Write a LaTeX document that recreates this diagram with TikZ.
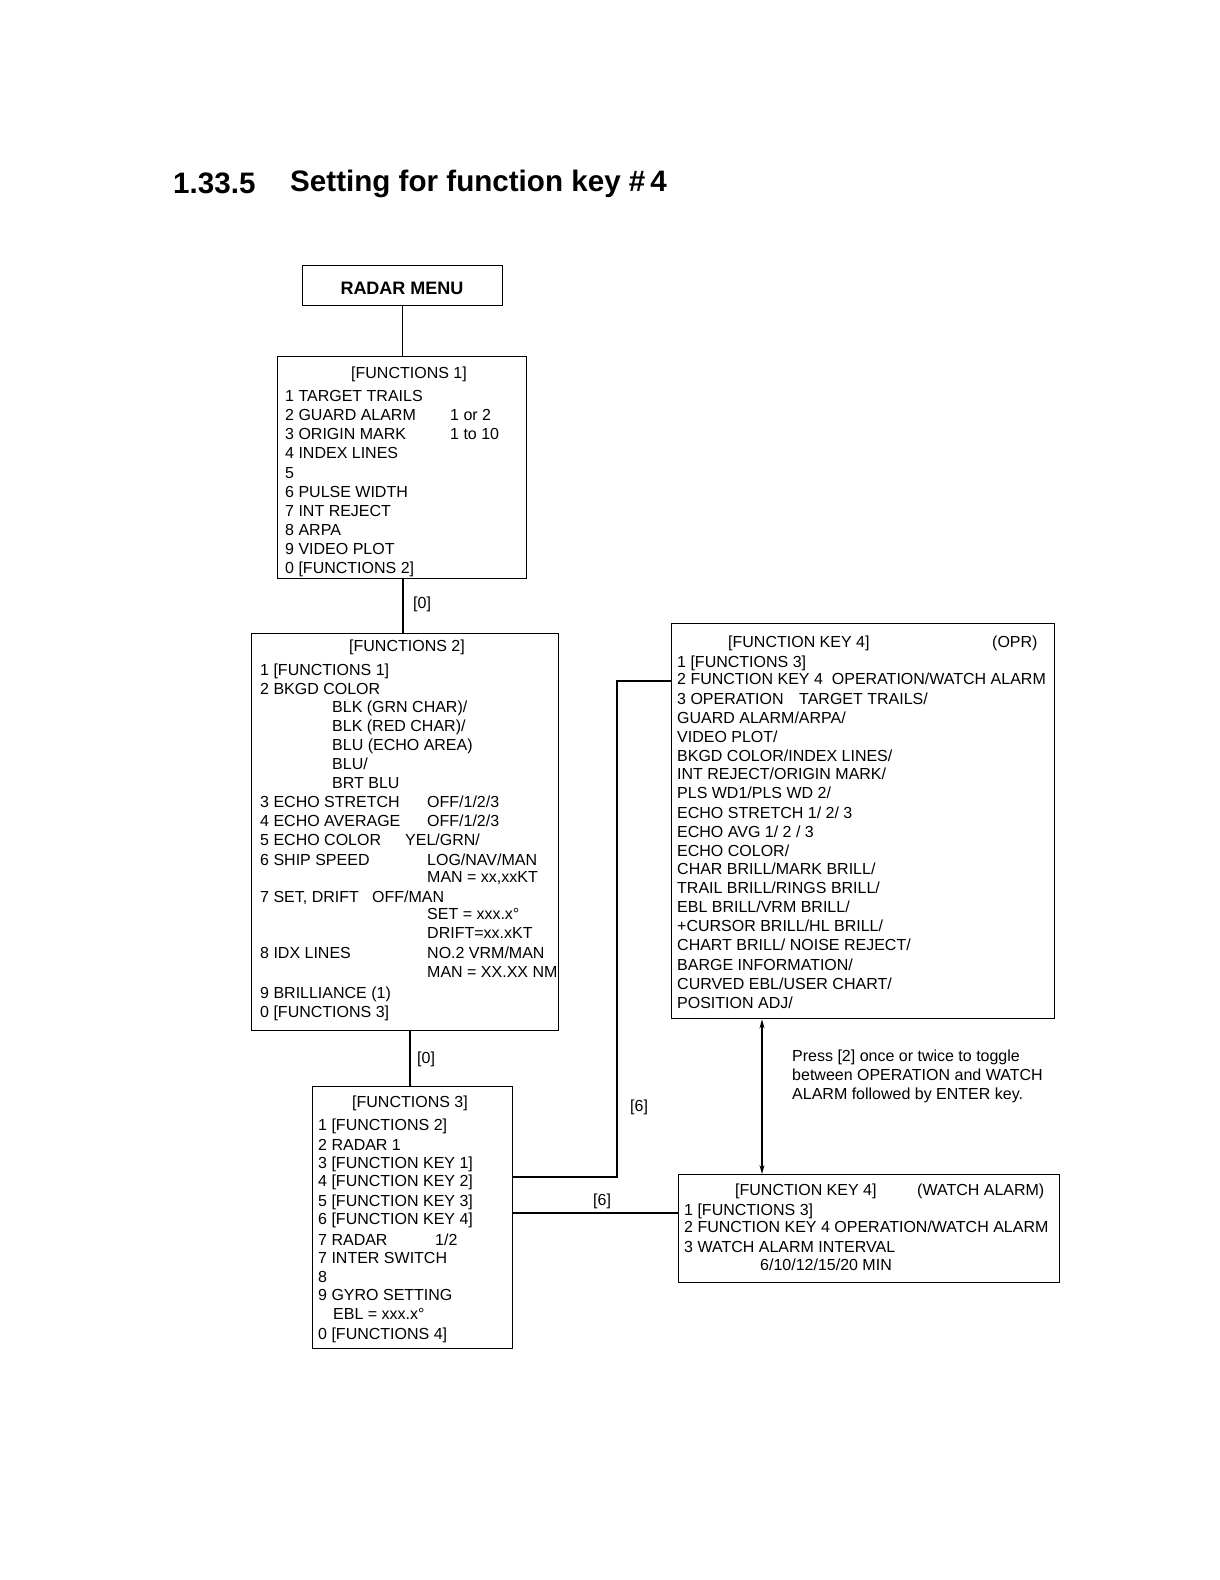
\documentclass[tikz,border=0pt]{standalone}
\usepackage{fontspec}
\setmainfont{Liberation Sans}
\usetikzlibrary{arrows.meta}
\newcommand\boxfont{\fontsize{16}{19}\selectfont}
\begin{document}
\begin{tikzpicture}[x=1pt,y=-1pt,
  box/.style={draw, line width=1.4pt, inner sep=0pt, anchor=north west},
  txt/.style={anchor=base west, inner sep=0pt, font=\boxfont},
  ctxt/.style={anchor=base, inner sep=0pt, font=\boxfont},
  conn/.style={line width=1.2pt},
  ttl/.style={anchor=base west, inner sep=0pt, font=\fontsize{29.6}{34}\selectfont\bfseries}]
\useasboundingbox[fill=white] (0,0) rectangle (1220,1580);

% title
\node[ttl] (tnum) at (173,193) {1.33.5};
\node[ttl] (ttext) at (290,191) {Setting for function key \#\,4};

% boxes
\node[box, minimum width=200pt, minimum height=40pt] (rm) at (302,265) {};
\node[anchor=center, inner sep=0pt, font=\fontsize{18}{20}\selectfont\bfseries] (rmt) at (402,288) {RADAR MENU};
\node[box, minimum width=249pt, minimum height=222pt] (f1) at (277,356) {};
\node[box, minimum width=307pt, minimum height=397pt] (f2) at (251,633) {};
\node[box, minimum width=200pt, minimum height=262pt] (f3) at (312,1086) {};
\node[box, minimum width=383pt, minimum height=395pt] (opr) at (671,623) {};
\node[box, minimum width=381pt, minimum height=108pt] (wa) at (678,1174) {};

% FUNCTIONS 1
\node[ctxt] (f1h) at (409,378) {[FUNCTIONS 1]};
\foreach \y/\t [count=\i] in {401/{1 TARGET TRAILS},420/{2 GUARD ALARM},439/{3 ORIGIN MARK},458/{4 INDEX LINES},478/{5},497/{6 PULSE WIDTH},516/{7 INT REJECT},535/{8 ARPA},554/{9 VIDEO PLOT},573/{0 [FUNCTIONS 2]}}
  \node[txt, name=f1l\i] at (285,\y) {\t};
\node[txt] (f1a) at (450,420) {1 or 2};
\node[txt] (f1b) at (450,439) {1 to 10};

% FUNCTIONS 2
\node[ctxt] (f2h) at (407,651) {[FUNCTIONS 2]};
\foreach \y/\t [count=\i] in {675/{1 [FUNCTIONS 1]},694/{2 BKGD COLOR},807/{3 ECHO STRETCH},826/{4 ECHO AVERAGE},845/{5 ECHO COLOR},865/{6 SHIP SPEED},902/{7 SET, DRIFT},958/{8 IDX LINES},998/{9 BRILLIANCE (1)},1017/{0 [FUNCTIONS 3]}}
  \node[txt, name=f2l\i] at (260,\y) {\t};
\foreach \y/\t [count=\i] in {712/{BLK (GRN CHAR)/},731/{BLK (RED CHAR)/},750/{BLU (ECHO AREA)},769/{BLU/},788/{BRT BLU}}
  \node[txt, name=f2c\i] at (332,\y) {\t};
\foreach \y/\t [count=\i] in {807/{OFF/1/2/3},826/{OFF/1/2/3},865/{LOG/NAV/MAN},882/{MAN = xx,xxKT},919/{SET = xxx.x°},938/{DRIFT=xx.xKT},958/{NO.2 VRM/MAN},977/{MAN = XX.XX NM}}
  \node[txt, name=f2r\i] at (427,\y) {\t};
\node[txt] (f2y) at (405,845) {YEL/GRN/};
\node[txt] (f2o) at (372,902) {OFF/MAN};

% FUNCTIONS 3
\node[ctxt] (f3h) at (410,1107) {[FUNCTIONS 3]};
\foreach \y/\t [count=\i] in {1130/{1 [FUNCTIONS 2]},1150/{2 RADAR 1},1168/{3 [FUNCTION KEY 1]},1186/{4 [FUNCTION KEY 2]},1206/{5 [FUNCTION KEY 3]},1224/{6 [FUNCTION KEY 4]},1245/{7 RADAR},1263/{7 INTER SWITCH},1282/{8},1300/{9 GYRO SETTING},1339/{0 [FUNCTIONS 4]}}
  \node[txt, name=f3l\i] at (318,\y) {\t};
\node[txt] (f3r) at (435,1245) {1/2};
\node[txt] (f3e) at (333,1319) {EBL = xxx.x°};

% FUNCTION KEY 4 (OPR)
\node[txt] (oprh) at (728,647) {[FUNCTION KEY 4]};
\node[txt] (oprm) at (992,647) {(OPR)};
\foreach \y/\t [count=\i] in {667/{1 [FUNCTIONS 3]},684/{2 FUNCTION KEY 4\ \ OPERATION/WATCH ALARM},704/{3 OPERATION},723/{GUARD ALARM/ARPA/},742/{VIDEO PLOT/},761/{BKGD COLOR/INDEX LINES/},779/{INT REJECT/ORIGIN MARK/},798/{PLS WD1/PLS WD 2/},818/{ECHO STRETCH 1/ 2/ 3},837/{ECHO AVG 1/ 2 / 3},856/{ECHO COLOR/},874/{CHAR BRILL/MARK BRILL/},893/{TRAIL BRILL/RINGS BRILL/},912/{EBL BRILL/VRM BRILL/},931/{+CURSOR BRILL/HL BRILL/},950/{CHART BRILL/ NOISE REJECT/},970/{BARGE INFORMATION/},989/{CURVED EBL/USER CHART/},1008/{POSITION ADJ/}}
  \node[txt, name=oprl\i] at (677,\y) {\t};
\node[txt] (oprt) at (799,704) {TARGET TRAILS/};

% FUNCTION KEY 4 (WATCH ALARM)
\node[txt] (wah) at (735,1195) {[FUNCTION KEY 4]};
\node[txt] (wam) at (917,1195) {(WATCH ALARM)};
\foreach \y/\t [count=\i] in {1215/{1 [FUNCTIONS 3]},1232/{2 FUNCTION KEY 4 OPERATION/WATCH ALARM},1252/{3 WATCH ALARM INTERVAL}}
  \node[txt, name=wal\i] at (684,\y) {\t};
\node[txt] (wat) at (760,1270) {6/10/12/15/20 MIN};

% note
\node[txt] (n1) at (792,1061) {Press [2] once or twice to toggle};
\node[txt] (n2) at (792,1080) {between OPERATION and WATCH};
\node[txt] (n3) at (792,1099) {ALARM followed by ENTER key.};

% connectors
\draw[conn] (rm.south) -- (rm.south |- f1.north);
\coordinate (c1) at (403,0);
\draw[conn] (f1.south -| c1) -- (f2.north -| c1);
\node[txt] (lab0a) at (413,608) {[0]};
\coordinate (c2) at (410,0);
\draw[conn] (f2.south -| c2) -- (f3.north -| c2);
\node[txt] (lab0b) at (417,1063) {[0]};
\coordinate (ka) at (617,1177);
\coordinate (kb) at (617,681);
\draw[conn] (f3.east |- ka) -- (ka) -- (kb) -- (kb -| opr.west);
\node[txt] (lab6a) at (630,1111) {[6]};
\coordinate (kc) at (600,1213);
\draw[conn] (f3.east |- kc) -- (kc -| wa.west);
\node[txt] (lab6b) at (593,1205) {[6]};
\coordinate (kd) at (762,0);
\draw[conn, {Stealth[length=9pt,width=5pt]}-{Stealth[length=9pt,width=5pt]}] (opr.south -| kd) -- (wa.north -| kd);
\end{tikzpicture}
\end{document}
